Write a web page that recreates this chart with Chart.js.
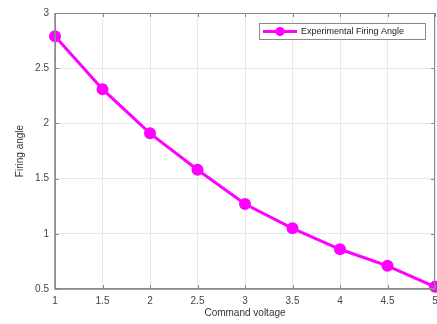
<!DOCTYPE html>
<html><head><meta charset="utf-8">
<script src="https://cdn.jsdelivr.net/npm/chart.js@4"></script>
<style>html,body{margin:0;padding:0;background:#fff}#w{width:437px;height:324px}</style>
</head><body><div id="w"><canvas id="c" width="437" height="324"></canvas></div>
<script>
const commandVoltage = [1, 1.5, 2, 2.5, 3, 3.5, 4, 4.5, 5];
const firingAngle = [2.79, 2.31, 1.91, 1.58, 1.27, 1.05, 0.86, 0.71, 0.52];
const seriesLabel = 'Experimental Firing Angle';
const xTitle = 'Command voltage';
const yTitle = 'Firing angle';

const FONT = '"Liberation Sans", Arial, sans-serif';
const AXIS = '#8a8a8a';
const fmt = v => String(Math.round(v * 10) / 10);

const framePlugin = {
  id: 'frame',
  afterDraw(chart) {
    const {ctx, chartArea: a, scales: {x, y}} = chart;
    ctx.save();
    ctx.strokeStyle = AXIS;
    ctx.lineWidth = 1;
    ctx.beginPath();
    ctx.rect(a.left + 0.5, a.top + 0.5, a.right - a.left - 1, a.bottom - a.top - 1);
    ctx.stroke();
    ctx.lineWidth = 1.5;
    ctx.beginPath();
    ctx.moveTo(a.left, a.top); ctx.lineTo(a.left, a.bottom); ctx.lineTo(a.right, a.bottom);
    ctx.stroke();
    ctx.lineWidth = 1;
    const tl = 4;
    x.ticks.forEach(t => {
      const px = Math.round(x.getPixelForValue(t.value)) + 0.5;
      ctx.beginPath();
      ctx.moveTo(px, a.bottom); ctx.lineTo(px, a.bottom - tl);
      ctx.moveTo(px, a.top); ctx.lineTo(px, a.top + tl);
      ctx.stroke();
    });
    y.ticks.forEach(t => {
      const py = Math.round(y.getPixelForValue(t.value)) + 0.5;
      ctx.beginPath();
      ctx.moveTo(a.left, py); ctx.lineTo(a.left + tl, py);
      ctx.moveTo(a.right, py); ctx.lineTo(a.right - tl, py);
      ctx.stroke();
    });
    // legend
    const ds = chart.data.datasets[0];
    const bx = 259, by = 23, bw = 166, bh = 16;
    ctx.fillStyle = '#fff';
    ctx.fillRect(bx, by, bw, bh);
    ctx.strokeStyle = '#8a8a8a';
    ctx.strokeRect(bx + 0.5, by + 0.5, bw, bh);
    const cy = by + bh / 2 + 0.5;
    ctx.strokeStyle = ds.borderColor;
    ctx.lineWidth = 3;
    ctx.beginPath(); ctx.moveTo(bx + 4, cy); ctx.lineTo(bx + 38, cy); ctx.stroke();
    ctx.fillStyle = ds.pointBackgroundColor;
    ctx.beginPath(); ctx.arc(bx + 21, cy, 4.5, 0, Math.PI * 2); ctx.fill();
    ctx.fillStyle = '#222';
    ctx.font = '9px ' + FONT;
    ctx.textBaseline = 'middle';
    ctx.fillText(ds.label, bx + 42, cy);
    ctx.restore();
  }
};

new Chart(document.getElementById('c'), {
  type: 'line',
  data: {
    datasets: [{
      label: seriesLabel,
      data: commandVoltage.map((v, i) => ({x: v, y: firingAngle[i]})),
      borderColor: '#ff00ff',
      backgroundColor: '#ff00ff',
      pointBackgroundColor: '#ff00ff',
      pointBorderColor: '#ff00ff',
      borderWidth: 3,
      pointRadius: 4.5,
      tension: 0,
      clip: false
    }]
  },
  options: {
    responsive: false,
    animation: false,
    events: [],
    layout: {autoPadding: false, padding: {left: 0, top: 13, right: 2, bottom: 0}},
    plugins: {legend: {display: false}, tooltip: {enabled: false}},
    scales: {
      x: {
        type: 'linear', min: 1, max: 5,
        ticks: {stepSize: 0.5, color: '#444', font: {family: FONT, size: 10}, padding: 6, maxRotation: 0, callback: fmt},
        grid: {color: '#e8e8e8', drawTicks: false},
        border: {display: false},
        title: {display: true, text: xTitle, color: '#333', font: {family: FONT, size: 10}, padding: {top: 1, bottom: 5}},
        afterFit(s) { s.height = 35; s.paddingLeft = 0; s.paddingRight = 0; }
      },
      y: {
        min: 0.5, max: 3,
        ticks: {stepSize: 0.5, color: '#444', font: {family: FONT, size: 10}, padding: 6, callback: fmt},
        grid: {color: '#e8e8e8', drawTicks: false},
        border: {display: false},
        title: {display: true, text: yTitle, color: '#333', font: {family: FONT, size: 10}, padding: {top: 14, bottom: 6}},
        afterFit(s) { s.width = 55; s.paddingTop = 0; s.paddingBottom = 0; }
      }
    }
  },
  plugins: [framePlugin]
});
</script></body></html>
